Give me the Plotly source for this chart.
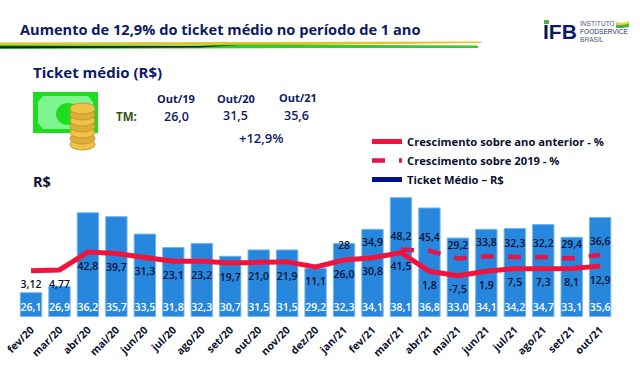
import plotly.graph_objects as go

W, H = 640, 389
months = ["fev/20","mar/20","abr/20","mai/20","jun/20","jul/20","ago/20","set/20","out/20","nov/20","dez/20",
          "jan/21","fev/21","mar/21","abr/21","mai/21","jun/21","jul/21","ago/21","set/21","out/21"]
ticket = [26.1,26.9,36.2,35.7,33.5,31.8,32.3,30.7,31.5,31.5,29.2,32.3,34.1,38.1,36.8,33.0,34.1,34.2,34.7,33.1,35.6]
growth_yoy = [3.12,4.77,42.8,39.7,31.3,23.1,23.2,19.7,21.0,21.9,11.1,26.0,30.8,41.5,1.8,-7.5,1.9,7.5,7.3,8.1,12.9]
growth_yoy_labels = ["3,12","4,77","42,8","39,7","31,3","23,1","23,2","19,7","21,0","21,9","11,1",
                     "26,0","30,8","41,5","1,8","-7,5","1,9","7,5","7,3","8,1","12,9"]
months_2019 = months[11:]
growth_2019 = [28,34.9,48.2,45.4,29.2,33.8,32.3,32.2,29.4,36.6]
growth_2019_labels = ["28","34,9","48,2","45,4","29,2","33,8","32,3","32,2","29,4","36,6"]
dashed_from = 2
ticket_labels = [f"{v:.1f}".replace(".", ",") for v in ticket]
AXIS_FLOOR = 23.07

NAVY = "#0d1a63"
INK = "#0b1030"
RED = "#f2123c"
BLUE = "#2787dd"
FONT = "Open Sans"
CLEAR = "rgba(0,0,0,0)"

def px(x): return x / W
def py(y): return 1 - y / H

fig = go.Figure()
fig.add_bar(x=months, y=[v - AXIS_FLOOR for v in ticket], base=AXIS_FLOOR,
            marker=dict(color=BLUE, line=dict(color="#6fb6ee", width=1)), width=0.75,
            text=ticket_labels, textposition="inside", insidetextanchor="start", textangle=0,
            constraintext="none", textfont=dict(color="white", size=10.5, family=FONT, weight=600),
            showlegend=False, hoverinfo="skip")
fig.add_scatter(x=months, y=growth_yoy, yaxis="y2", mode="lines", name="Crescimento sobre ano anterior - %",
                line=dict(color=RED, width=5))
fig.add_scatter(x=months_2019[dashed_from:], y=growth_2019[dashed_from:], yaxis="y2", mode="lines",
                name="Crescimento sobre 2019 - %", line=dict(color="#e0154a", width=4.5, dash="13px,14px"))
fig.add_scatter(x=[None], y=[None], mode="lines", name="Ticket Médio – R$", line=dict(color="#00108a", width=5))
# value labels: the clear markers hold the labels away from the lines
fig.add_scatter(x=months, y=growth_yoy, yaxis="y2", mode="markers+text", text=growth_yoy_labels,
                textposition="bottom center", showlegend=False, marker=dict(size=14, color=CLEAR),
                textfont=dict(color=INK, size=10.5, family=FONT, weight=600))
fig.add_scatter(x=months_2019, y=growth_2019, yaxis="y2", mode="markers+text", text=growth_2019_labels,
                textposition="top center", showlegend=False, marker=dict(size=10, color=CLEAR),
                textfont=dict(color=INK, size=10.5, family=FONT, weight=600))

def text(x, y, s, size, color=NAVY, anchor="left", weight=700, font=FONT):
    return dict(xref="paper", yref="paper", x=px(x), y=py(y), text=s, showarrow=False, xanchor=anchor,
                yanchor="middle", font=dict(size=size, color=color, family=font, weight=weight))

anns = [
    text(18, 29, "Aumento de 12,9% do ticket médio no período de 1 ano", 14.6),
    text(31, 72, "Ticket médio (R$)", 15),
    text(114, 117, "TM:", 11.5, "#2f5a10"),
    text(176, 99, "Out/19", 11, anchor="center"),
    text(236, 98, "Out/20", 11, anchor="center"),
    text(298, 97.5, "Out/21", 11, anchor="center"),
    text(176, 117, "26,0", 12.5, anchor="center", weight=600),
    text(235.5, 115.5, "31,5", 12.5, anchor="center", weight=600),
    text(296, 115.5, "35,6", 12.5, anchor="center", weight=600),
    text(261, 137.5, "+12,9%", 13, anchor="center", weight=600),
    text(31, 182, "R$", 14.5, INK),
    text(541, 31.5, "IFB", 21, NAVY, weight=800, font="Liberation Sans"),
    text(578, 24, "INSTITUTO", 6.6, "#4a5a80", weight=400, font="Liberation Sans"),
    text(578, 31.8, "FOODSERVICE", 6.6, "#26336e", weight=400, font="Liberation Sans"),
    text(578, 39.2, "BRASIL", 6.6, "#4a5a80", weight=400, font="Liberation Sans"),
]

def rect(x0, y0, x1, y1, color):
    return dict(type="rect", xref="paper", yref="paper", x0=px(x0), x1=px(x1), y0=py(y0), y1=py(y1),
                fillcolor=color, line_width=0, layer="above")
def ell(x0, y0, x1, y1, color, line=None):
    return dict(type="circle", xref="paper", yref="paper", x0=px(x0), x1=px(x1), y0=py(y0), y1=py(y1),
                fillcolor=color, line=dict(color=line or color, width=1 if line else 0), layer="above")
def poly(pts, color):
    d = "M " + " L ".join(f"{px(x):.5f} {py(y):.5f}" for x, y in pts) + " Z"
    return dict(type="path", xref="paper", yref="paper", path=d, fillcolor=color, line_width=0, layer="above")

shapes = [
    poly([(0, 42.5), (240, 42), (481, 41.5), (481, 43), (300, 45), (0, 45)], "#e2c52a"),
    poly([(0, 45), (190, 45.5), (240, 44.5), (478, 45.5), (478, 48), (300, 48), (0, 49)], "#37c832"),
    poly([(0, 46.3), (200, 46), (240, 45), (200, 47.5), (0, 48.3)], "#0b2a1a"),
    # banknote
    rect(33, 92, 98, 133, "#1fdc1f"),
    poly([(43, 96), (88, 96), (93, 102), (93, 123), (88, 129), (43, 129), (38, 123), (38, 102)], "#7ff592"),
    ell(56, 103, 80, 125, "#1fdc1f"),
]
coin_tops = [139, 133, 127, 121, 115, 109, 103]
for i, t in enumerate(coin_tops):
    shapes.append(ell(70, t, 95, t + 11, "#dcae3a" if i % 2 else "#efc24a", "#c9982a"))
shapes += [
    rect(544, 20, 549, 24, "#49b34a"),
    poly([(616, 22), (622, 23), (629, 21), (629, 26), (622, 27), (616, 27)], "#e6d23a"),
    poly([(616, 25), (622, 25), (629, 24), (629, 27), (622, 28), (616, 28)], "#4caf50"),
]

fig.update_layout(
    width=W, height=H, margin=dict(l=0, r=0, t=0, b=0), autosize=False,
    paper_bgcolor="white", plot_bgcolor=CLEAR,
    font=dict(family=FONT, color=INK),
    xaxis=dict(type="category", categoryorder="array", categoryarray=months, range=[-1.09, 21.4], showgrid=False,
               zeroline=False, showline=False, ticks="", tickangle=-45, ticklabelstandoff=4,
               tickfont=dict(size=10.5, color=INK, family=FONT, weight=700)),
    yaxis=dict(domain=[(H - 316.7) / H, 1], range=[AXIS_FLOOR, 63.06], visible=False),
    yaxis2=dict(domain=[(H - 316.7) / H, 1], range=[-94.7, 579.1], overlaying="y", visible=False),
    legend=dict(x=px(367), y=py(127), xanchor="left", yanchor="top", bgcolor=CLEAR, itemwidth=30,
                tracegroupgap=0, font=dict(size=11.2, color=INK, family=FONT, weight=700)),
    annotations=anns, shapes=shapes,
    bargap=0.25,
)
fig.write_html("out.html", config=dict(displayModeBar=False),
               post_script="document.body.style.margin='0';document.body.style.overflow='hidden';")
